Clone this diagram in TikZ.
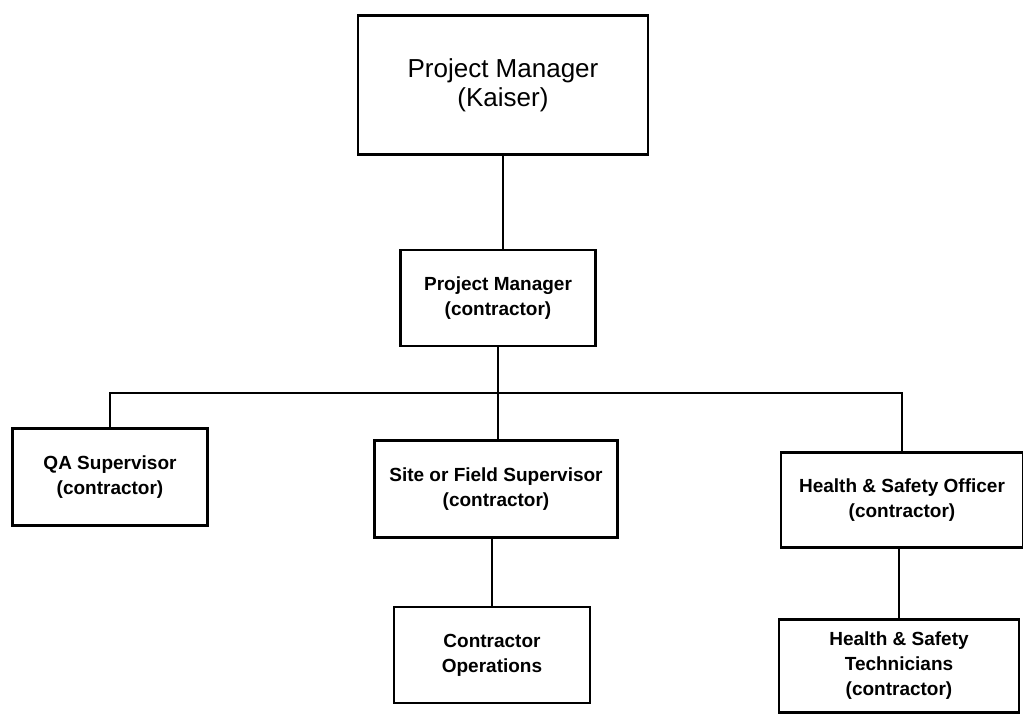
\documentclass[tikz,border=0pt]{standalone}
\usepackage{fontspec}
\setmainfont{Liberation Sans}
\begin{document}
\begin{tikzpicture}[x=1pt,y=-1pt,
  box/.style={draw, line width=2.8pt, align=center, inner sep=0pt,
    font=\bfseries\fontsize{19}{25}\selectfont},
  topbox/.style={box, font=\fontsize{26}{29}\selectfont},
  link/.style={line width=1.6pt}]
\useasboundingbox (0,0) rectangle (1023,715);
\node[topbox, minimum width=290pt, minimum height=139pt] (pmk) at (503,85) {Project Manager\\(Kaiser)};
\node[box, minimum width=195pt, minimum height=96pt] (pmc) at (498,298) {Project Manager\\(contractor)};
\node[box, minimum width=195pt, minimum height=97pt] (qa) at (110,477) {QA Supervisor\\(contractor)};
\node[box, minimum width=243pt, minimum height=97pt] (site) at (496,489) {Site or Field Supervisor\\(contractor)};
\node[box, minimum width=242pt, minimum height=95pt] (hso) at (902,500) {Health \& Safety Officer\\(contractor)};
\node[box, minimum width=196pt, minimum height=96pt] (ops) at (492,655) {Contractor\\Operations};
\node[box, minimum width=240pt, minimum height=93pt] (hst) at (899,666) {Health \& Safety\\Technicians\\(contractor)};
\coordinate (bus) at (497,393);
\draw[link] (pmc.north -| pmk.south) -- (pmk.south);
\draw[link] (pmc.south) -- (pmc.south |- site.north);
\draw[link] (qa.north) |- (bus) -| (hso.north);
\draw[link] (ops.north) -- (ops.north |- site.south);
\draw[link] (hst.north) -- (hst.north |- hso.south);
\end{tikzpicture}
\end{document}
